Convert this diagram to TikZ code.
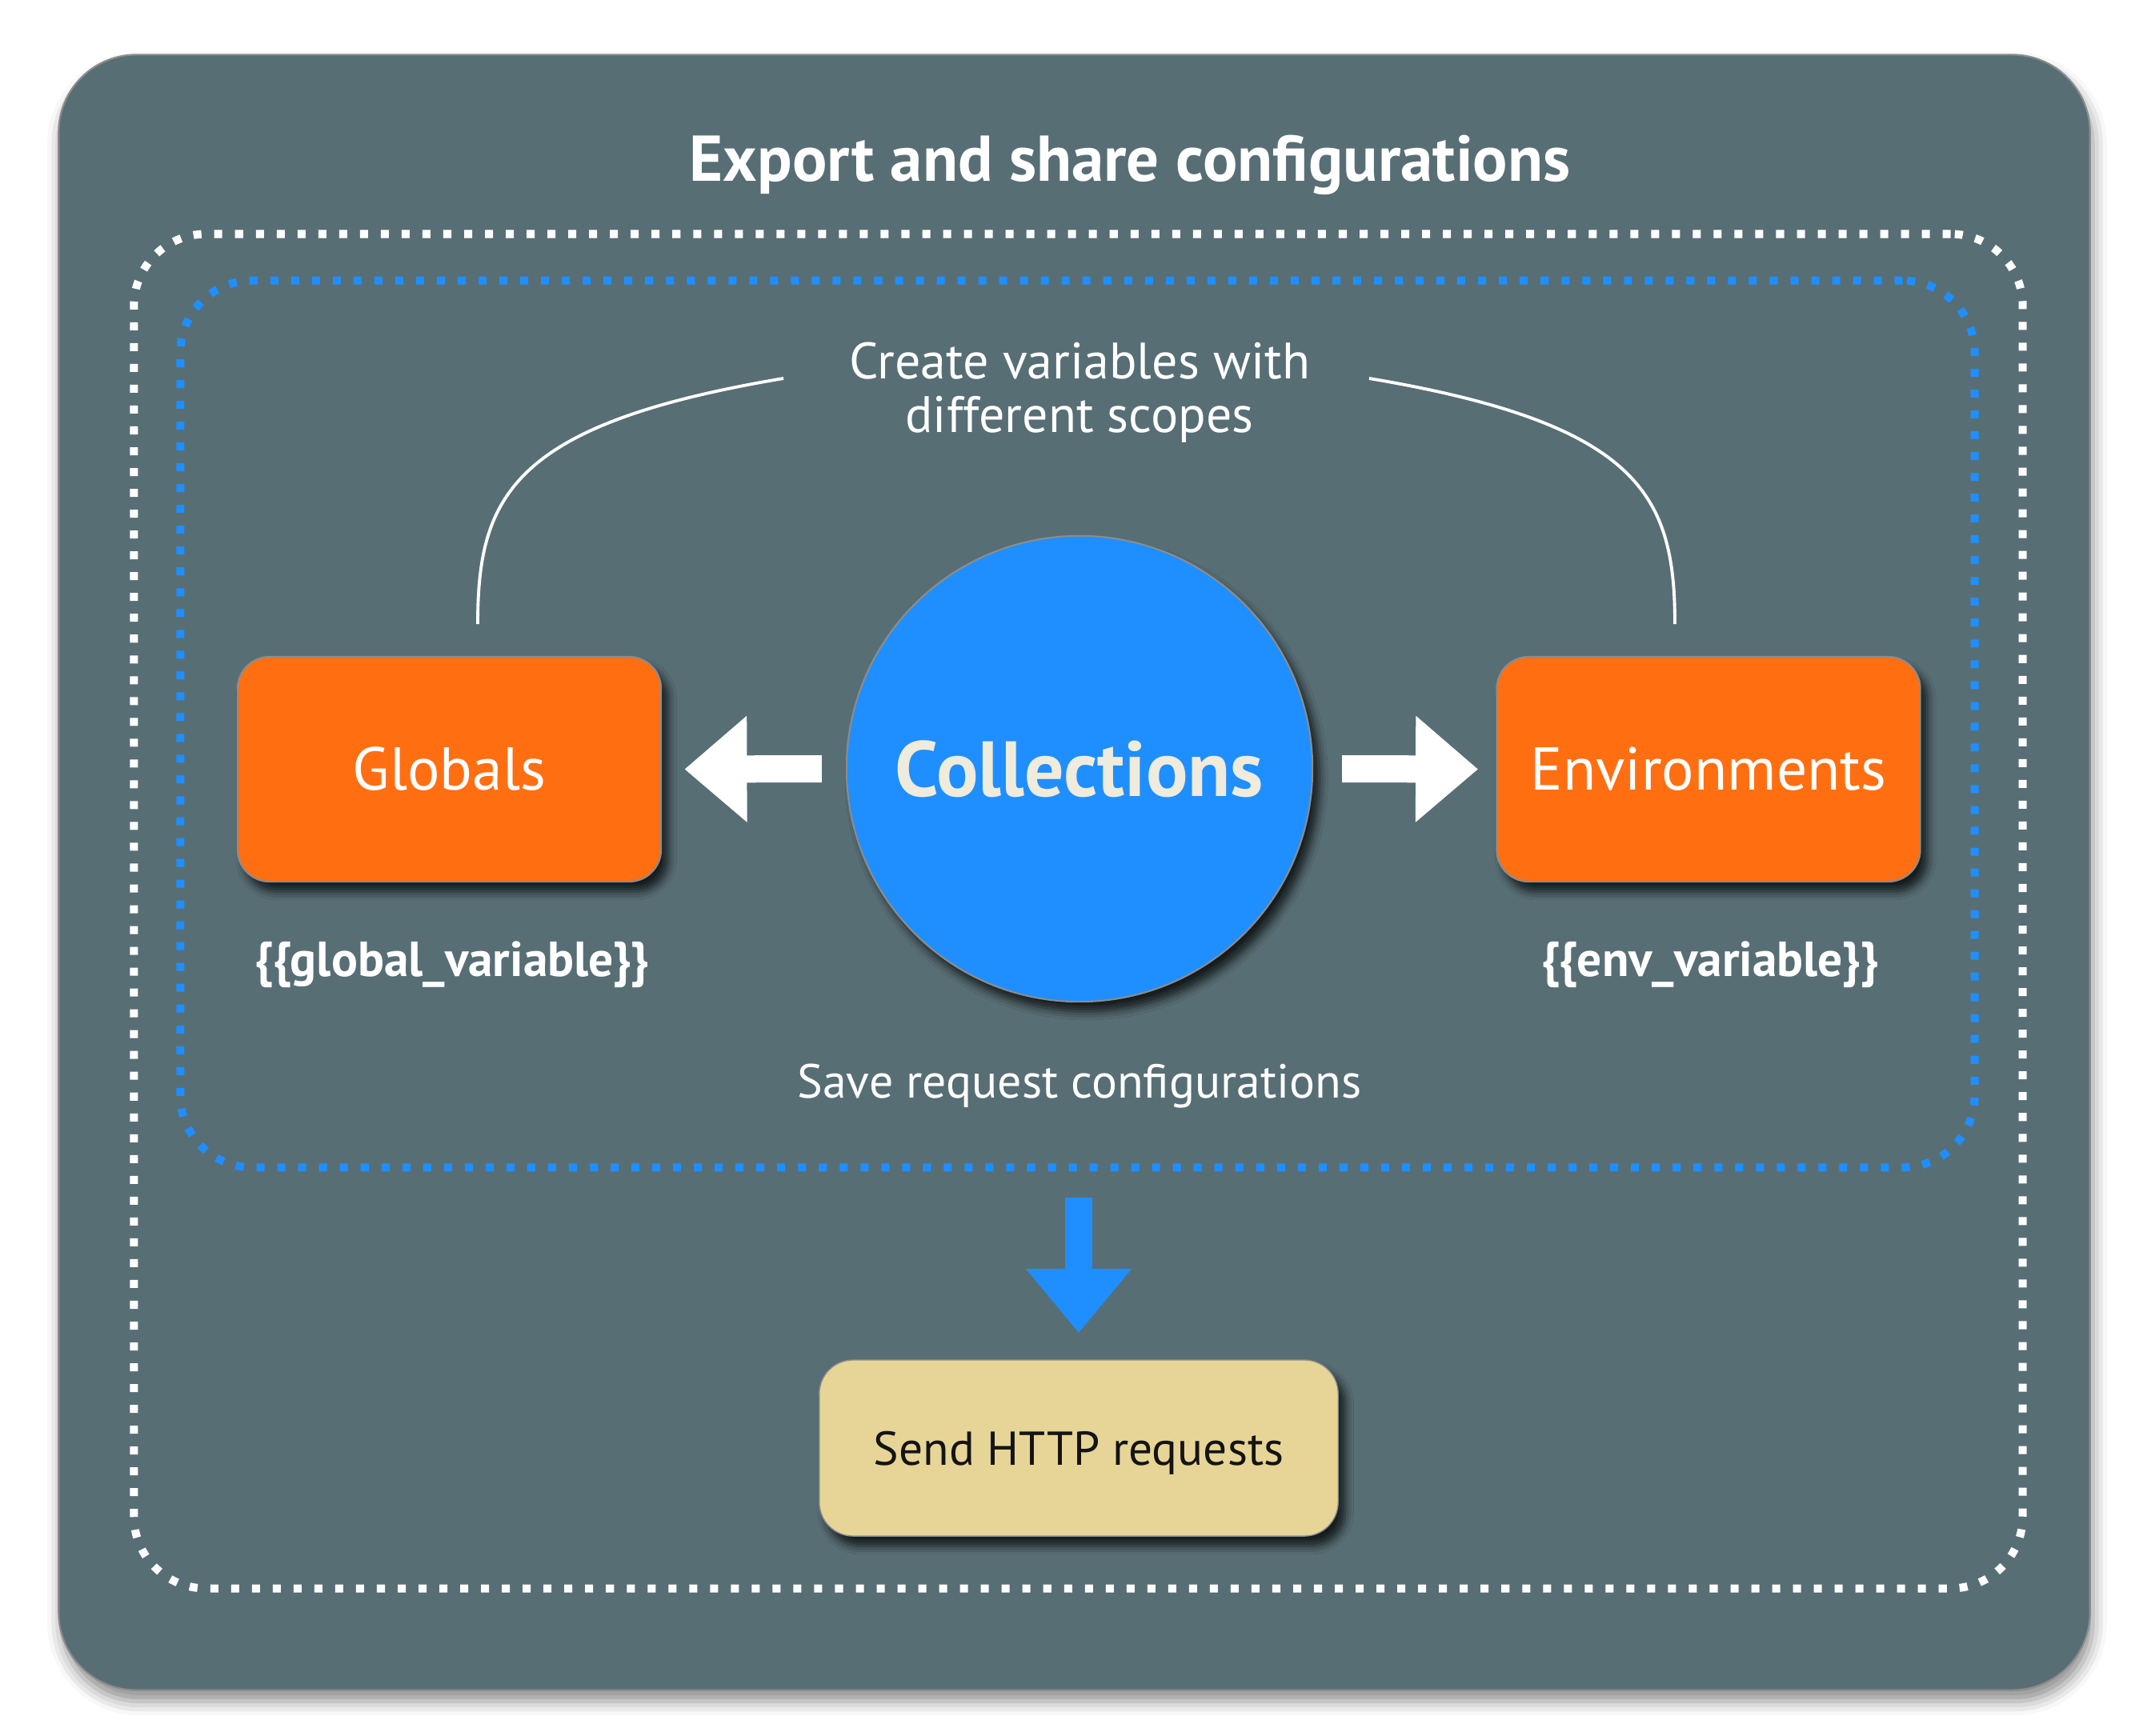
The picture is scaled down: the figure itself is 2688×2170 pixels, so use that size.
\documentclass[tikz,border=0pt]{standalone}
\usepackage{fontspec}
\setmainfont{PT Sans}
\usetikzlibrary{shadows.blur,arrows.meta}
\definecolor{slate}{HTML}{586E75}
\definecolor{dblue}{HTML}{1F8FFF}
\definecolor{orng}{HTML}{FF6F12}
\definecolor{cream}{HTML}{EFEBDD}
\definecolor{sand}{HTML}{E6D596}
\definecolor{rimgrey}{HTML}{8C8C8C}
\begin{document}
\begin{tikzpicture}[x=0.01cm,y=-0.01cm,
  panel/.style={draw=rimgrey, line width=0.6pt, fill=slate, rounded corners=27.6pt,
     blur shadow={shadow xshift=1pt, shadow yshift=-4pt, shadow blur radius=5pt, shadow opacity=45}},
  dotframe/.style={line width=2.85pt, dash pattern=on 2.85pt off 4.55pt, rounded corners=25.6pt,
     inner sep=0pt, rectangle},
  orangebox/.style={draw=rimgrey, line width=0.6pt, fill=orng, rounded corners=11.4pt,
     minimum width=5.29cm, minimum height=2.81cm, inner sep=0pt, text=white,
     font=\fontsize{21.5}{24}\selectfont,
     blur shadow={shadow xshift=2.5pt, shadow yshift=-3.5pt, shadow blur radius=3pt, shadow opacity=75}},
  collcircle/.style={circle, draw=rimgrey, line width=0.6pt, fill=dblue, minimum size=5.82cm,
     inner sep=0pt, text=cream, font=\fontsize{27.8}{30}\bfseries,
     blur shadow={shadow xshift=2.5pt, shadow yshift=-3.5pt, shadow blur radius=3pt, shadow opacity=75}},
  sendbox/.style={draw=rimgrey, line width=0.4pt, fill=sand, rounded corners=12pt,
     minimum width=6.48cm, minimum height=2.2cm, inner sep=0pt, text=black!92,
     text depth=0pt, font=\fontsize{16.9}{19}\selectfont,
     blur shadow={shadow xshift=2.5pt, shadow yshift=-3.5pt, shadow blur radius=3pt, shadow opacity=75}},
  wtext/.style={text=white, inner sep=0pt, font=\fontsize{17}{19}\selectfont},
  vartext/.style={text=white, inner sep=0pt, font=\fontsize{17.5}{20}\bfseries, anchor=base},
  curve/.style={draw=white, line width=1.1pt},
  fatarrow/.style={line width=9.67pt, -{Triangle[length=22.2pt, width=36.4pt]}}
]
\useasboundingbox (0,0) rectangle (2688,2170);

% outer panel
\node[panel, minimum width=25.37cm, minimum height=20.43cm, inner sep=0pt] (panel) at (1342.5,1090.5) {};

% title
\node[text=white, inner sep=0pt, anchor=base, font=\fontsize{23}{26}\bfseries] (title) at (1412,227)
  {Export and share configurations};

% dotted frames
\node[dotframe, draw=white, minimum width=23.59cm, minimum height=16.92cm] (wframe) at (1347.5,1139) {};
\node[dotframe, draw=dblue, minimum width=22.41cm, minimum height=11.08cm] (bframe) at (1346.5,905) {};

% scope text
\node[wtext, font=\fontsize{18.2}{19}\selectfont, align=center, anchor=base] (scope) at (1349,540)
  {Create variables with\\different scopes};

% boxes
\node[orangebox] (glob) at (561.5,961.5) {Globals};
\node[orangebox] (env) at (2135,961.5) {Environments};
\node[collcircle] (coll) at (1349,961) {Collections};

% curves
\coordinate (lstart) at (979,473);
\coordinate (lend) at (597,780);
\coordinate (rstart) at (1711,473);
\coordinate (rend) at (2093,780);
\draw[curve] (lstart) .. controls (640,530) and (597,620) .. (lend);
\draw[curve] (rstart) .. controls (2050,530) and (2093,620) .. (rend);

% white arrows
\draw[fatarrow, white] ([xshift=-8.5pt]coll.west) -- ([xshift=8pt]glob.east);
\draw[fatarrow, white] ([xshift=10.2pt]coll.east) -- ([xshift=-6.3pt]env.west);

% variable names
\node[vartext] (gvar) at (565,1220) {\{\{global\_variable\}\}};
\node[vartext] (evar) at (2137,1220) {\{\{env\_variable\}\}};

% save text
\node[wtext, anchor=base] (save) at (1349,1372) {Save request configurations};

% send box and blue arrow
\node[sendbox] (send) at (1348,1810) {Send HTTP requests};
\draw[line width=9.67pt, dblue, -{Triangle[length=22.8pt, width=36.1pt]}, shorten <=9.4pt, shorten >=9.4pt]
  (bframe.south -| send.north) -- (send.north);
\end{tikzpicture}
\end{document}
